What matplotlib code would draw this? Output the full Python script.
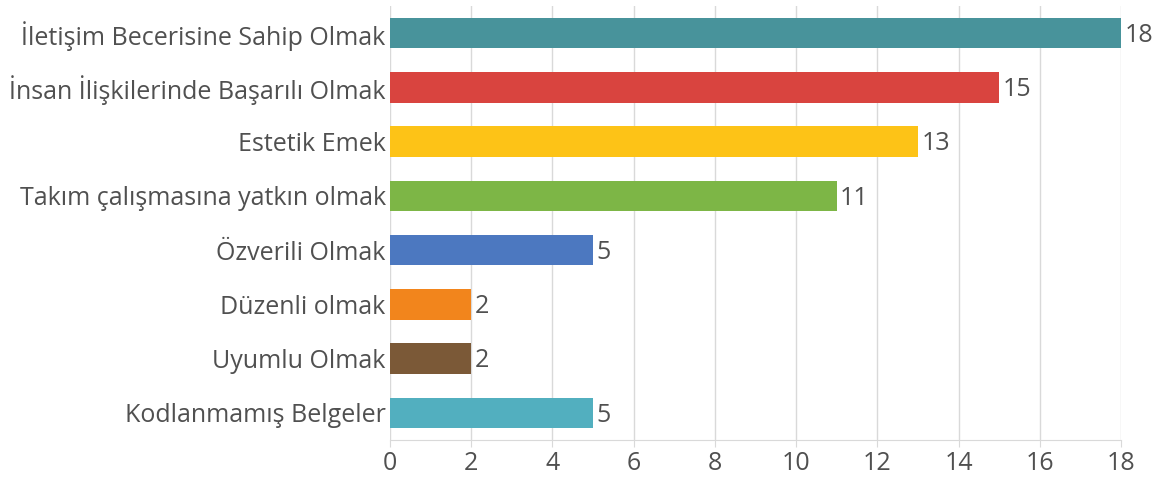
import matplotlib.pyplot as plt

# categories top to bottom
categories = ["İletişim Becerisine Sahip Olmak", "İnsan İlişkilerinde Başarılı Olmak",
              "Estetik Emek", "Takım çalışmasına yatkın olmak", "Özverili Olmak",
              "Düzenli olmak", "Uyumlu Olmak", "Kodlanmamış Belgeler"]
values = [18, 15, 13, 11, 5, 2, 2, 5]
colors = ["#48939B", "#D9443F", "#FDC317", "#7DB646", "#4C78C0", "#F2851C", "#7B5937", "#52AFBF"]
xticks = [0, 2, 4, 6, 8, 10, 12, 14, 16, 18]

plt.rcParams['font.family'] = ['Open Sans', 'DejaVu Sans']
text_col = "#505050"

fig = plt.figure(figsize=(11.57, 4.8), dpi=100)
ax = fig.add_axes([0.337, 0.0833, 0.632, 0.9042])

pos = list(range(len(categories)))
ax.barh(pos, values, height=0.56, color=colors, zorder=3)
for p, v in zip(pos, values):
    ax.text(v + 0.08, p + 0.04, str(v), va='center', ha='left', fontsize=18, color=text_col)

ax.set_ylim(len(categories) - 0.5, -0.5)
ax.set_xlim(0, 18)
ax.set_yticks(pos)
ax.set_yticklabels(categories, fontsize=18, color=text_col)
ax.set_xticks(xticks)
ax.set_xticklabels([str(t) for t in xticks], fontsize=18, color=text_col)

ax.grid(axis='x', color="#D9D9D9", linewidth=1, zorder=0)
for s in ['top', 'right', 'left']:
    ax.spines[s].set_visible(False)
ax.spines['bottom'].set_color("#D9D9D9")
ax.tick_params(axis='y', length=0, pad=3)
ax.tick_params(axis='x', length=5, color="#D9D9D9", pad=3)

fig.savefig("out.png", dpi=100)
